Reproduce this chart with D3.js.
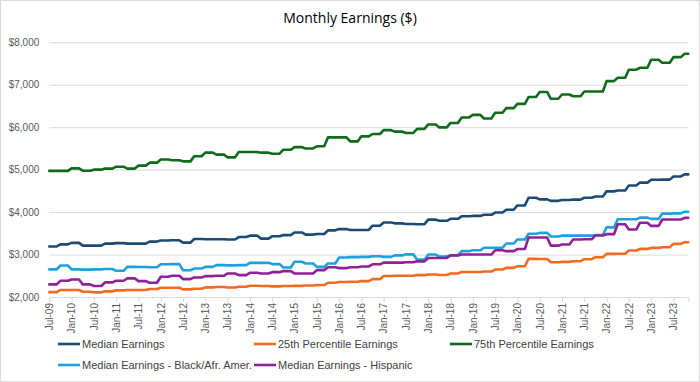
<!DOCTYPE html>
<html>
<head>
<meta charset="utf-8">
<script src="https://cdn.jsdelivr.net/npm/d3@7"></script>
<style>
  html, body { margin: 0; padding: 0; background: #fff; }
  svg { display: block; }
</style>
</head>
<body>
<svg id="chart" width="700" height="382"></svg>
<script>
// ---- Data (quarterly values, each shown for the three months of the quarter; Q3-2009 .. Q4-2023) ----
const firstMonth = new Date(2009, 6, 1);   // Jul-09
const endMonthExclusive = new Date(2023, 11, 1); // through Nov-23

const medianEarnings = [
  3190, 3240, 3275, 3210, 3210, 3258, 3270, 3258, 3258, 3305,
  3330, 3336, 3280, 3365, 3360, 3360, 3355, 3412, 3445, 3375,
  3430, 3458, 3520, 3470, 3485, 3570, 3600, 3580, 3580, 3680,
  3755, 3735, 3720, 3715, 3822, 3795, 3842, 3902, 3910, 3937,
  3990, 4055, 4157, 4338, 4300, 4265, 4285, 4295, 4338, 4368,
  4488, 4510, 4625, 4695, 4762, 4765, 4840, 4888
];
const p25Earnings = [
  2115, 2165, 2165, 2125, 2110, 2133, 2156, 2164, 2164, 2188,
  2219, 2219, 2180, 2195, 2227, 2235, 2225, 2242, 2266, 2258,
  2250, 2258, 2262, 2270, 2281, 2336, 2352, 2360, 2375, 2420,
  2495, 2500, 2500, 2516, 2530, 2520, 2555, 2590, 2590, 2600,
  2647, 2686, 2725, 2898, 2895, 2820, 2828, 2843, 2890, 2937,
  3016, 3020, 3094, 3133, 3157, 3172, 3251, 3290
];
const p75Earnings = [
  4970, 4970, 5030, 4975, 5000, 5025, 5070, 5025, 5095, 5165,
  5240, 5220, 5195, 5315, 5400, 5355, 5290, 5415, 5415, 5400,
  5375, 5470, 5530, 5500, 5550, 5760, 5760, 5665, 5785, 5840,
  5930, 5895, 5865, 5960, 6065, 5995, 6100, 6230, 6290, 6205,
  6340, 6450, 6550, 6710, 6830, 6670, 6770, 6730, 6840, 6840,
  7085, 7165, 7355, 7400, 7590, 7520, 7650, 7730
];
const blackEarnings = [
  2650, 2742, 2650, 2645, 2650, 2660, 2617, 2710, 2705, 2700,
  2770, 2775, 2630, 2670, 2710, 2750, 2745, 2750, 2805, 2805,
  2775, 2695, 2830, 2790, 2710, 2790, 2930, 2940, 2945, 2960,
  2945, 2980, 3005, 2880, 3000, 2950, 2985, 3080, 3100, 3160,
  3160, 3260, 3355, 3490, 3510, 3425, 3445, 3445, 3445, 3460,
  3640, 3830, 3830, 3870, 3840, 3965, 3970, 4010
];
const hispanicEarnings = [
  2297, 2383, 2414, 2297, 2258, 2344, 2383, 2438, 2375, 2336,
  2477, 2500, 2422, 2461, 2492, 2500, 2555, 2516, 2570, 2555,
  2585, 2610, 2555, 2555, 2633, 2700, 2680, 2700, 2720, 2770,
  2810, 2810, 2820, 2840, 2920, 2920, 2980, 3000, 3000, 3000,
  3100, 3080, 3130, 3400, 3400, 3210, 3235, 3355, 3360, 3450,
  3480, 3715, 3590, 3750, 3675, 3825, 3825, 3865
];

const seriesNames = [
  "Median Earnings",
  "25th Percentile Earnings",
  "75th Percentile Earnings",
  "Median Earnings - Black/Afr. Amer.",
  "Median Earnings - Hispanic"
];
const seriesColors = ["#1b4b74", "#f26a1f", "#0f6a1a", "#1ea0dc", "#8f2096"];
const seriesValues = [medianEarnings, p25Earnings, p75Earnings, blackEarnings, hispanicEarnings];

const yTicks = [2000, 3000, 4000, 5000, 6000, 7000, 8000];
const xTickLabels = [
  "Jul-09","Jan-10","Jul-10","Jan-11","Jul-11","Jan-12","Jul-12","Jan-13","Jul-13","Jan-14",
  "Jul-14","Jan-15","Jul-15","Jan-16","Jul-16","Jan-17","Jul-17","Jan-18","Jul-18","Jan-19",
  "Jul-19","Jan-20","Jul-20","Jan-21","Jul-21","Jan-22","Jul-22","Jan-23","Jul-23"
];

// ---- Build ----
const months = d3.timeMonth.range(firstMonth, endMonthExclusive);
const fmt = d3.timeFormat("%b-%y");
const monthLabels = months.map(fmt);

const svg = d3.select("#chart");
const W = 700, H = 382;
const plot = { left: 49.3, right: 688.3, top: 42.3, bottom: 297 };

svg.append("rect")
  .attr("x", 0.5).attr("y", 0.5).attr("width", W - 1).attr("height", H - 1)
  .attr("fill", "#fff").attr("stroke", "#d9d9d9").attr("stroke-width", 1);

const x = d3.scalePoint().domain(monthLabels).range([plot.left, plot.right]);
const y = d3.scaleLinear().domain([2000, 8000]).range([plot.bottom, plot.top]);

// Title
svg.append("text")
  .attr("x", 350).attr("y", 23)
  .attr("text-anchor", "middle")
  .attr("font-family", "'Open Sans', 'Noto Sans', sans-serif")
  .attr("font-size", 14)
  .attr("fill", "#000")
  .text("Monthly Earnings ($)");

// Gridlines + y labels
const yAxis = d3.axisLeft(y).tickValues(yTicks)
  .tickSize(-(plot.right - plot.left))
  .tickPadding(10)
  .tickFormat(d => "$" + d3.format(",")(d));
const gy = svg.append("g").attr("transform", `translate(${plot.left},0)`).call(yAxis);
gy.select(".domain").remove();
gy.selectAll(".tick line").attr("stroke", "#d9d9d9").attr("stroke-width", 1);
gy.selectAll(".tick text")
  .attr("font-family", "'Liberation Sans', Arial, sans-serif")
  .attr("font-size", 10).attr("fill", "#595959");

// X axis
const xAxis = d3.axisBottom(x)
  .tickValues(xTickLabels)
  .tickSize(5)
  .tickPadding(3);
const gx = svg.append("g").attr("transform", `translate(0,${plot.bottom})`).call(xAxis);
gx.select(".domain").attr("stroke", "#d9d9d9");
gx.selectAll(".tick line").attr("stroke", "#d9d9d9");
gx.selectAll(".tick text")
  .attr("font-family", "'Liberation Sans', Arial, sans-serif")
  .attr("font-size", 10).attr("fill", "#595959")
  .attr("transform", "rotate(-90)")
  .attr("text-anchor", "end")
  .attr("dy", "0.33em")
  .attr("x", -6).attr("y", 0);

// Lines
const line = d3.line()
  .x((d, i) => x(monthLabels[i]))
  .y(d => y(d));

const drawOrder = [2, 0, 3, 4, 1];
drawOrder.forEach(si => {
  const vals = months.map((m, i) => seriesValues[si][Math.floor(i / 3)]);
  svg.append("path")
    .datum(vals)
    .attr("d", line)
    .attr("fill", "none")
    .attr("stroke", seriesColors[si])
    .attr("stroke-width", 2.6)
    .attr("stroke-linejoin", "round")
    .attr("stroke-linecap", "round");
});

// Legend
const legendPos = [
  { x: 58, y: 344 }, { x: 254, y: 344 }, { x: 450, y: 344 },
  { x: 58, y: 365 }, { x: 254, y: 365 }
];
seriesNames.forEach((name, i) => {
  const g = svg.append("g").attr("transform", `translate(${legendPos[i].x},${legendPos[i].y})`);
  g.append("line").attr("x1", 0).attr("x2", 22).attr("y1", 0).attr("y2", 0)
    .attr("stroke", seriesColors[i]).attr("stroke-width", 2.6);
  g.append("text").attr("x", 24).attr("y", 0).attr("dy", "0.35em")
    .attr("font-family", "'Liberation Sans', Arial, sans-serif")
    .attr("font-size", 11).attr("fill", "#404040")
    .text(name);
});
</script>
</body>
</html>
